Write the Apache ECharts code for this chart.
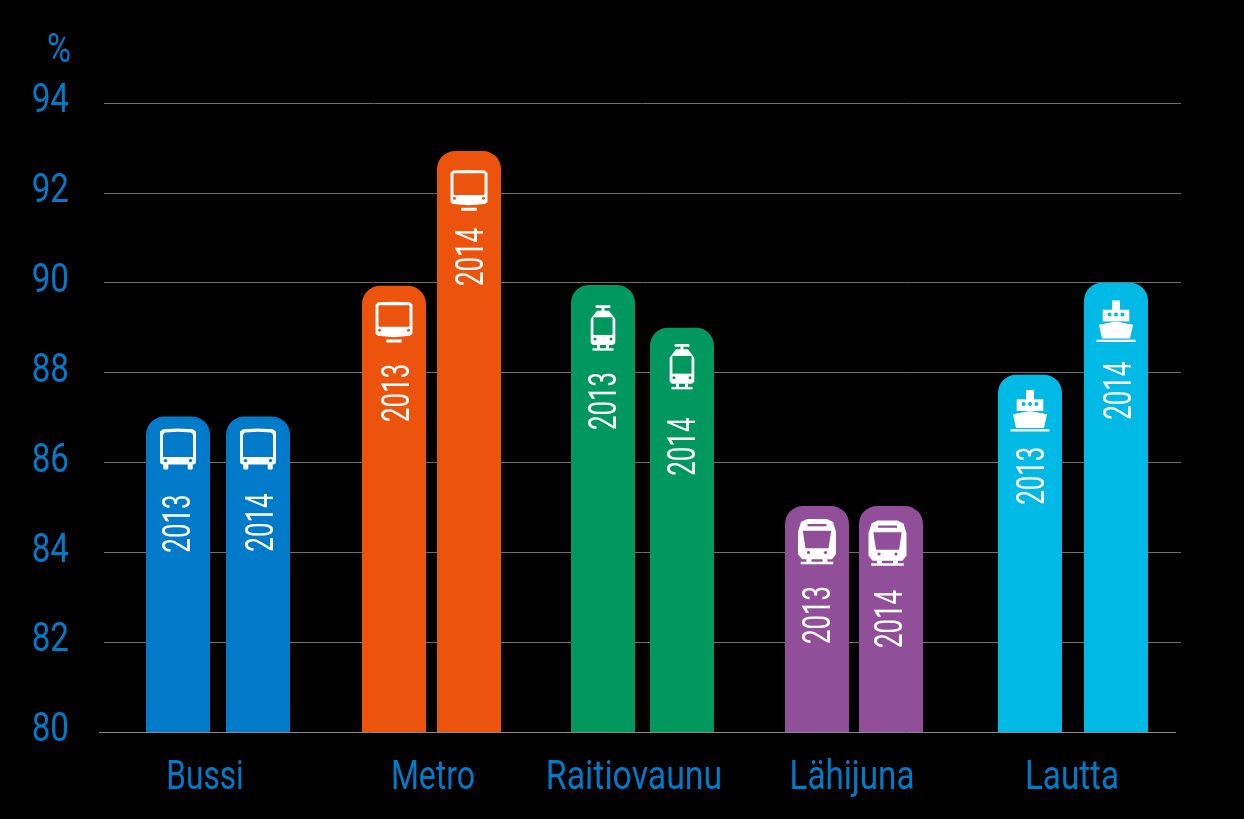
<!DOCTYPE html>
<html><head><meta charset="utf-8">
<style>html,body{margin:0;padding:0;background:#000}#c{width:1244px;height:819px}</style>
<script src="https://cdn.jsdelivr.net/npm/echarts@6/dist/echarts.min.js"></script>
</head><body><div id="c"></div>
<script>
// ---- data ----
const categories = ['Bussi', 'Metro', 'Raitiovaunu', 'Lähijuna', 'Lautta'];
const years = ['2013', '2014'];
const values2013 = [87.02, 89.93, 89.95, 85.03, 87.95];
const values2014 = [87.02, 92.93, 89, 85.03, 90];
const yTickLabels = [80, 82, 84, 86, 88, 90, 92, 94];
const yTicks = { min: 80, max: 94, step: 2 };
const unitLabel = '%';

// ---- layout and style ----
const FONT = 'Roboto,"Liberation Sans",sans-serif';
const BLUE = '#007ac9';
const colors = ['#007ac9', '#ec540e', '#00985f', '#924f99', '#00b9e4'];
const iconKind = ['bus', 'metro', 'tram', 'train', 'ship'];
const barCenters2013 = [74, 290, 499, 713, 926];
const barCenters2014 = [154, 365, 578, 787, 1012];
const labelCenters = [101, 329, 530, 748, 968];
const labelScales = [0.77, 0.78, 0.825, 0.81, 0.81];
const iconOffsets = [[[0,0],[0,0]],[[0,-3],[0,0]],[[0,0],[0,-4]],[[0,0],[-3.5,1.5]],[[0,-2.5],[0,0]]];
const yearOffsets = [[[2,107],[5,106]],[[5,107],[4,106]],[[3,116],[3,119]],[[3,109],[1,113]],[[4,101],[5,108]]];
const BAR_W = 64;

function rr(x, y, w, h, r, c) { return { type: 'rect', shape: { x, y, width: w, height: h, r: r || 0 }, style: { fill: c } }; }
function dot(x, y, r, c) { return { type: 'circle', shape: { cx: x, cy: y, r }, style: { fill: c } }; }
function poly(pts, c) { return { type: 'polygon', shape: { points: pts }, style: { fill: c } }; }
const W = '#fff';
const icons = {
  bus: c => [
    poly([[-18,15],[-15,12.6],[0,12],[15,12.6],[18,15],[18,30],[-18,30]], W),
    rr(-18, 20, 36, 28, 3, W), rr(-14.7, 44, 5, 9, 1, W), rr(9.7, 44, 5, 9, 1, W),
    poly([[-15,18],[-13,15.8],[0,15.2],[13,15.8],[15,18],[15,40.5],[-15,40.5]], c),
    dot(-12.5, 44, 1.7, c), dot(12.5, 44, 1.7, c)
  ],
  metro: c => [
    poly([[-18.5,22],[-16,19.5],[0,19],[16,19.5],[18.5,22],[18.5,40],[-18.5,40]], W),
    poly([[-18.5,40],[18.5,40],[18.5,51],[16,53],[0,54.3],[-16,53],[-18.5,51]], W),
    rr(-15.5, 22.3, 31, 21.7, 1, c),
    dot(-14.5, 47.3, 1.5, c), dot(14.5, 47.3, 1.5, c),
    rr(-8, 56.7, 16, 3, 1, W)
  ],
  tram: c => [
    rr(-7.5, 20.3, 15, 2.7, 1, W), rr(-1.5, 22, 3, 5, 0, W),
    poly([[-6,25.7],[6,25.7],[12.3,34],[12.3,58],[10,60],[-10,60],[-12.3,58],[-12.3,34]], W),
    rr(-9.6, 32.3, 19.2, 17.7, 0, c),
    dot(-8, 54, 1.5, c), dot(8, 54, 1.5, c),
    rr(-6, 60, 3, 4, 0, W), rr(3, 60, 3, 4, 0, W), rr(-10.5, 63.3, 21, 2.4, 0, W)
  ],
  train: c => [
    poly([[-10,13],[10,13],[16,16],[19,26],[19,48],[15,53.3],[-15,53.3],[-19,48],[-19,26],[-16,16]], W),
    rr(-9.5, 18, 19, 2.3, 0, c),
    poly([[-14.2,24.7],[14.2,24.7],[11.5,42.3],[-11.5,42.3]], c),
    dot(-8.5, 46.5, 1.6, c), dot(8.5, 46.5, 1.6, c),
    rr(-10.5, 53, 5, 3, 0, W), rr(5.5, 53, 5, 3, 0, W), rr(-16.3, 55.7, 32.6, 2.6, 0, W)
  ],
  ship: c => [
    rr(-4, 17.7, 8, 10, 0, W), rr(-13.3, 27, 26.6, 11.7, 0, W),
    dot(-6.4, 31.7, 2, c), dot(0, 31.7, 2, c), dot(6.4, 31.7, 2, c),
    poly([[-17,42],[0,38.7],[17,42],[14,55.7],[-14,55.7]], W),
    rr(-19.5, 57, 39, 2.3, 0, W)
  ]
};

const chart = echarts.init(document.getElementById('c'), null, { renderer: 'canvas' });

function barRows(i) {
  return [
    [barCenters2013[i], values2013[i], 0],
    [barCenters2014[i], values2014[i], 1]
  ];
}

function renderBar(catIdx) {
  return function (params, api) {
    const x = api.value(0), v = api.value(1), yi = api.value(2);
    const top = api.coord([x, v]);
    const base = api.coord([x, yTicks.min]);
    const w = api.size([BAR_W, 0])[0];
    const c = colors[catIdx];
    const io = iconOffsets[catIdx][yi], yo = yearOffsets[catIdx][yi];
    return {
      type: 'group',
      children: [
        { type: 'rect', shape: { x: top[0] - w / 2, y: top[1], width: w, height: base[1] - top[1], r: [18, 18, 0, 0] }, style: { fill: c } },
        { type: 'group', x: top[0] + io[0], y: top[1] + io[1], children: icons[iconKind[catIdx]](c) },
        { type: 'text', x: top[0] + yo[0], y: top[1] + yo[1], rotation: Math.PI / 2, scaleX: 0.68,
          style: { text: years[yi], fill: '#fff', font: '400 38px ' + FONT, align: 'center', verticalAlign: 'middle' } }
      ]
    };
  };
}

const barSeries = categories.map((name, i) => ({
  type: 'custom', name, coordinateSystem: 'cartesian2d', clip: false, z: 3,
  data: barRows(i), renderItem: renderBar(i), silent: true
}));

const labelSeries = {
  type: 'custom', coordinateSystem: 'cartesian2d', clip: false, z: 4, silent: true,
  data: categories.map((n, i) => [labelCenters[i], yTicks.min, i]),
  renderItem(params, api) {
    const p = api.coord([api.value(0), api.value(1)]);
    const i = api.value(2);
    return { type: 'text', x: p[0], y: p[1] + 47, scaleX: labelScales[i],
      style: { text: categories[i], fill: BLUE, font: '400 41px ' + FONT, align: 'center', verticalAlign: 'middle' } };
  }
};

const yLabelSeries = {
  type: 'custom', coordinateSystem: 'cartesian2d', clip: false, z: 4, silent: true,
  data: yTickLabels.map(t => [-35, t]),
  renderItem(params, api) {
    const p = api.coord([api.value(0), api.value(1)]);
    return { type: 'text', x: p[0], y: p[1] - 1, scaleX: 0.81,
      style: { text: String(api.value(1)), fill: BLUE, font: '400 41px ' + FONT, align: 'right', verticalAlign: 'middle' } };
  }
};

const unitSeries = {
  type: 'custom', coordinateSystem: 'cartesian2d', clip: false, z: 4, silent: true,
  data: [[-45, yTicks.max]],
  renderItem(params, api) {
    const p = api.coord([api.value(0), api.value(1)]);
    return { type: 'text', x: p[0], y: p[1] - 51, scaleX: 0.82,
      style: { text: unitLabel, fill: BLUE, font: '400 40px ' + FONT, align: 'center', verticalAlign: 'middle' } };
  }
};

const baselineSeries = {
  type: 'custom', coordinateSystem: 'cartesian2d', clip: false, z: 5, silent: true,
  data: [[-5, yTicks.min, 1072, yTicks.min]],
  renderItem(params, api) {
    const a = api.coord([api.value(0), api.value(1)]), b = api.coord([api.value(2), api.value(3)]);
    return { type: 'line', shape: { x1: a[0], y1: a[1] + 0.5, x2: b[0], y2: b[1] + 0.5 }, style: { stroke: '#8a8a8a', lineWidth: 1 } };
  }
};

chart.setOption({
  animation: false,
  backgroundColor: '#000',
  grid: { left: 104, top: 103, width: 1077, height: 629 },
  xAxis: { type: 'value', min: 0, max: 1077, show: false },
  yAxis: {
    type: 'value', min: yTicks.min, max: yTicks.max, interval: yTicks.step,
    axisLine: { show: false }, axisTick: { show: false }, axisLabel: { show: false },
    splitLine: { show: true, showMinLine: false, lineStyle: { color: '#6e6e6e', width: 1 } }
  },
  series: [...barSeries, labelSeries, yLabelSeries, unitSeries, baselineSeries]
});
</script></body></html>
